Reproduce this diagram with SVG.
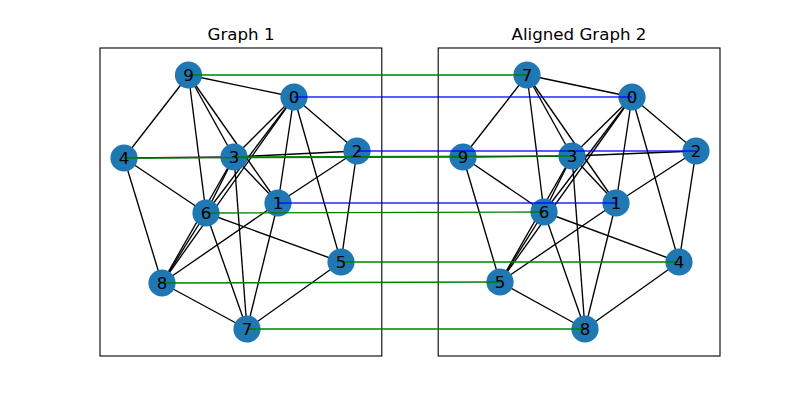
<svg xmlns="http://www.w3.org/2000/svg" width="800" height="400" viewBox="0 0 800 400">
<style>
.ax{fill:none;stroke:#000;stroke-width:1.1}
.title{font-family:"DejaVu Sans",sans-serif;font-size:16.67px;text-anchor:middle;fill:#000}
.e line{stroke:#000;stroke-width:1.35}
.n circle{fill:#1f77b4}
.lbl{font-family:"DejaVu Sans",sans-serif;font-size:16.67px;text-anchor:middle;fill:#000}
.g{stroke:green;stroke-width:1.35}
.b{stroke:blue;stroke-width:1.35;stroke-opacity:0.85}
</style>
<rect x="0" y="0" width="800" height="400" fill="#fff"/>
<rect class="ax" x="100" y="48" width="281.8" height="308"/>
<rect class="ax" x="438.2" y="48" width="281.8" height="308"/>
<text class="title" x="241" y="40">Graph 1</text>
<text class="title" x="579" y="40">Aligned Graph 2</text>

<g id="edges-graph1" class="e">
<line x1="188.5" y1="75" x2="294" y2="97"/>
<line x1="188.5" y1="75" x2="124" y2="158"/>
<line x1="188.5" y1="75" x2="234" y2="157"/>
<line x1="188.5" y1="75" x2="278" y2="203"/>
<line x1="188.5" y1="75" x2="206" y2="213"/>
<line x1="294" y1="97" x2="234" y2="157"/>
<line x1="294" y1="97" x2="206" y2="213"/>
<line x1="294" y1="97" x2="162" y2="283"/>
<line x1="294" y1="97" x2="278" y2="203"/>
<line x1="294" y1="97" x2="341" y2="262"/>
<line x1="294" y1="97" x2="357" y2="151"/>
<line x1="124" y1="158" x2="234" y2="157"/>
<line x1="124" y1="158" x2="206" y2="213"/>
<line x1="124" y1="158" x2="162" y2="283"/>
<line x1="234" y1="157" x2="357" y2="151"/>
<line x1="234" y1="157" x2="278" y2="203"/>
<line x1="234" y1="157" x2="206" y2="213"/>
<line x1="234" y1="157" x2="162" y2="283"/>
<line x1="234" y1="157" x2="247" y2="329"/>
<line x1="357" y1="151" x2="278" y2="203"/>
<line x1="357" y1="151" x2="341" y2="262"/>
<line x1="278" y1="203" x2="162" y2="283"/>
<line x1="278" y1="203" x2="247" y2="329"/>
<line x1="206" y1="213" x2="162" y2="283"/>
<line x1="206" y1="213" x2="341" y2="262"/>
<line x1="206" y1="213" x2="247" y2="329"/>
<line x1="162" y1="283" x2="247" y2="329"/>
<line x1="341" y1="262" x2="247" y2="329"/>
</g>

<g id="edges-graph2" class="e">
<line x1="527" y1="75" x2="632" y2="97"/>
<line x1="527" y1="75" x2="463" y2="157"/>
<line x1="527" y1="75" x2="572" y2="156"/>
<line x1="527" y1="75" x2="616" y2="203"/>
<line x1="527" y1="75" x2="544" y2="212"/>
<line x1="632" y1="97" x2="572" y2="156"/>
<line x1="632" y1="97" x2="544" y2="212"/>
<line x1="632" y1="97" x2="500" y2="282"/>
<line x1="632" y1="97" x2="616" y2="203"/>
<line x1="632" y1="97" x2="679" y2="262"/>
<line x1="632" y1="97" x2="696" y2="151"/>
<line x1="463" y1="157" x2="572" y2="156"/>
<line x1="463" y1="157" x2="544" y2="212"/>
<line x1="463" y1="157" x2="500" y2="282"/>
<line x1="572" y1="156" x2="696" y2="151"/>
<line x1="572" y1="156" x2="616" y2="203"/>
<line x1="572" y1="156" x2="544" y2="212"/>
<line x1="572" y1="156" x2="500" y2="282"/>
<line x1="572" y1="156" x2="585" y2="329"/>
<line x1="696" y1="151" x2="616" y2="203"/>
<line x1="696" y1="151" x2="679" y2="262"/>
<line x1="616" y1="203" x2="500" y2="282"/>
<line x1="616" y1="203" x2="585" y2="329"/>
<line x1="544" y1="212" x2="500" y2="282"/>
<line x1="544" y1="212" x2="679" y2="262"/>
<line x1="544" y1="212" x2="585" y2="329"/>
<line x1="500" y1="282" x2="585" y2="329"/>
<line x1="679" y1="262" x2="585" y2="329"/>
</g>

<g id="graph1-nodes" class="n">
<g id="g1-n9"><circle cx="188.5" cy="75" r="13.6"/></g>
<g id="g1-n0"><circle cx="294" cy="97" r="13.6"/></g>
<g id="g1-n4"><circle cx="124" cy="158" r="13.6"/></g>
<g id="g1-n3"><circle cx="234" cy="157" r="13.6"/></g>
<g id="g1-n2"><circle cx="357" cy="151" r="13.6"/></g>
<g id="g1-n1"><circle cx="278" cy="203" r="13.6"/></g>
<g id="g1-n6"><circle cx="206" cy="213" r="13.6"/></g>
<g id="g1-n5"><circle cx="341" cy="262" r="13.6"/></g>
<g id="g1-n8"><circle cx="162" cy="283" r="13.6"/></g>
<g id="g1-n7"><circle cx="247" cy="329" r="13.6"/></g>
</g>
<g id="graph2-nodes" class="n">
<g id="g2-n7"><circle cx="527" cy="75" r="13.6"/></g>
<g id="g2-n0"><circle cx="632" cy="97" r="13.6"/></g>
<g id="g2-n9"><circle cx="463" cy="157" r="13.6"/></g>
<g id="g2-n3"><circle cx="572" cy="156" r="13.6"/></g>
<g id="g2-n2"><circle cx="696" cy="151" r="13.6"/></g>
<g id="g2-n1"><circle cx="616" cy="203" r="13.6"/></g>
<g id="g2-n6"><circle cx="544" cy="212" r="13.6"/></g>
<g id="g2-n4"><circle cx="679" cy="262" r="13.6"/></g>
<g id="g2-n5"><circle cx="500" cy="282" r="13.6"/></g>
<g id="g2-n8"><circle cx="585" cy="329" r="13.6"/></g>
</g>

<g id="alignment-connectors">
<line class="g" x1="188.5" y1="75" x2="527" y2="75"/>
<line class="b" x1="294" y1="97" x2="632" y2="97"/>
<line class="g" x1="124" y1="158" x2="463" y2="157"/>
<line class="g" x1="234" y1="157" x2="572" y2="156"/>
<line class="b" x1="357" y1="151" x2="696" y2="151"/>
<line class="b" x1="278" y1="203" x2="616" y2="203"/>
<line class="g" x1="206" y1="213" x2="544" y2="212"/>
<line class="g" x1="341" y1="262" x2="679" y2="262"/>
<line class="g" x1="162" y1="283" x2="500" y2="282"/>
<line class="g" x1="247" y1="329" x2="585" y2="329"/>
</g>

<g id="labels" class="lbl">
<text x="188.5" y="81">9</text>
<text x="294" y="103">0</text>
<text x="124" y="164">4</text>
<text x="234" y="163">3</text>
<text x="357" y="157">2</text>
<text x="278" y="209">1</text>
<text x="206" y="219">6</text>
<text x="341" y="268">5</text>
<text x="162" y="289">8</text>
<text x="247" y="335">7</text>
<text x="527" y="81">7</text>
<text x="632" y="103">0</text>
<text x="463" y="163">9</text>
<text x="572" y="162">3</text>
<text x="696" y="157">2</text>
<text x="616" y="209">1</text>
<text x="544" y="218">6</text>
<text x="679" y="268">4</text>
<text x="500" y="288">5</text>
<text x="585" y="335">8</text>
</g>
</svg>
